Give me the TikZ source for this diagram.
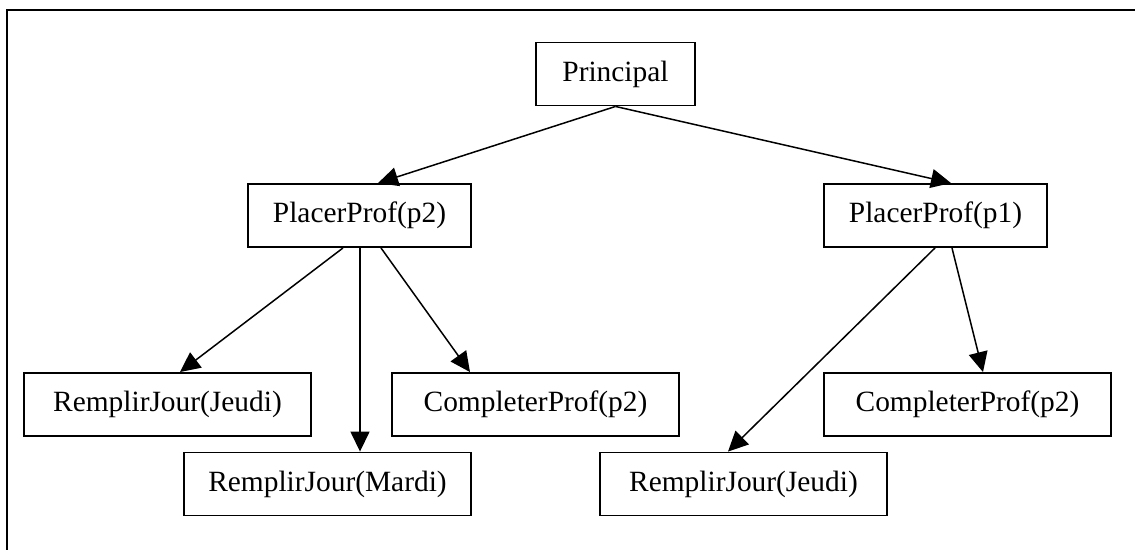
\documentclass[tikz,border=0pt]{standalone}
\usepackage{fontspec}
\setmainfont{Liberation Serif}
\usetikzlibrary{arrows.meta}
\begin{document}
\begin{tikzpicture}[x=1pt,y=-1pt,
  box/.style={draw, line width=1.9pt, inner sep=0pt, minimum height=63pt,
    font=\fontsize{29.4}{34}\selectfont},
  edge/.style={line width=1.5pt, -{Triangle[length=20pt,width=19pt]}}]
\useasboundingbox (0,0) rectangle (1135,549);
\draw[line width=2pt] (6.5,560) -- (6.5,10) -- (1145,10);
\node[box, minimum width=159pt] (pr) at (615.5,74) {Principal};
\node[box, minimum width=223pt] (p2) at (359.5,215.5) {PlacerProf(p2)};
\node[box, minimum width=223pt] (p1) at (935.5,215.5) {PlacerProf(p1)};
\node[box, minimum width=287pt] (rjl) at (167.5,404.5) {RemplirJour(Jeudi)};
\node[box, minimum width=287pt] (cpl) at (535.5,404.5) {CompleterProf(p2)};
\node[box, minimum width=287pt] (rm) at (327.5,484) {RemplirJour(Mardi)};
\node[box, minimum width=287pt] (cpr) at (967.5,404.5) {CompleterProf(p2)};
\node[box, minimum width=287pt] (rjr) at (743.5,484) {RemplirJour(Jeudi)};
\draw[edge] (pr.south) -- ([xshift=18.5pt]p2.north);
\draw[edge] (pr.south) -- ([xshift=15.5pt]p1.north);
\draw[edge] ([xshift=-16.5pt]p2.south) -- ([xshift=12.5pt]rjl.north);
\draw[edge] ([xshift=0.5pt]p2.south) -- ([xshift=32.5pt]rm.north);
\draw[edge] ([xshift=21.5pt]p2.south) -- ([xshift=-65.5pt]cpl.north);
\draw[edge] ([xshift=-0.5pt]p1.south) -- ([xshift=-15.5pt]rjr.north);
\draw[edge] ([xshift=16.5pt]p1.south) -- ([xshift=15.5pt]cpr.north);
\end{tikzpicture}
\end{document}
